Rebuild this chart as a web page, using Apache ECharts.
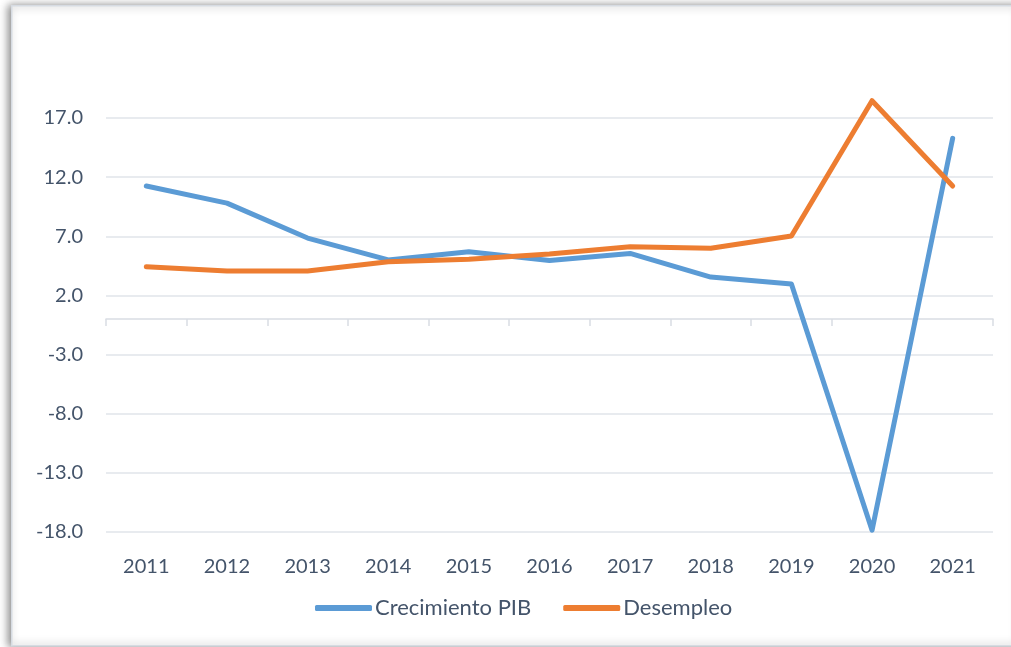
<!DOCTYPE html>
<html>
<head>
<meta charset="utf-8">
<script src="https://cdn.jsdelivr.net/npm/echarts@6/dist/echarts.min.js"></script>
<style>
html,body{margin:0;padding:0;background:#fff;}
#chart{width:1011px;height:647px;}
</style>
</head>
<body>
<div id="chart"></div>
<script>
const categories = ['2011','2012','2013','2014','2015','2016','2017','2018','2019','2020','2021'];
const crecimientoPIB = [11.25, 9.8, 6.85, 5.0, 5.7, 4.95, 5.55, 3.55, 2.97, -17.85, 15.28];
const desempleo = [4.43, 4.07, 4.07, 4.85, 5.06, 5.5, 6.12, 5.99, 7.03, 18.46, 11.25];
const yTicks = [-18, -13, -8, -3, 2, 7, 12, 17];

const textColor = '#44546A';
const gridColor = '#e0e4ea';
const fontFamily = 'Lato, "Open Sans", sans-serif';

const chart = echarts.init(document.getElementById('chart'), null, {renderer: 'canvas'});
chart.setOption({
  animation: false,
  backgroundColor: '#ffffff',
  graphic: [{
    type: 'rect',
    left: 11, top: 5,
    shape: {width: 1010, height: 640},
    style: {fill: '#ffffff', stroke: '#d6dbe2', lineWidth: 1.5,
      shadowBlur: 8, shadowColor: 'rgba(0,0,0,0.45)', shadowOffsetX: -3, shadowOffsetY: 0},
    z: -10, silent: true
  }],
  grid: {left: 106, right: 18, top: 118, bottom: 115},
  legend: {
    data: ['Crecimiento PIB', 'Desempleo'],
    bottom: 23, left: 310,
    icon: 'roundRect', itemWidth: 57, itemHeight: 6, itemGap: 32,
    textStyle: {color: textColor, fontSize: 22, fontFamily: fontFamily, padding: [0,0,0,-2]}
  },
  xAxis: [{
    type: 'category', data: categories, position: 'bottom',
    axisLine: {onZero: true, lineStyle: {color: '#d9dde3', width: 1.5}},
    axisTick: {show: true, length: 7, lineStyle: {color: '#d9dde3', width: 1.5}},
    axisLabel: {show: false},
    splitLine: {show: false}
  }, {
    type: 'category', data: categories, position: 'bottom',
    axisLine: {show: false, onZero: false},
    axisTick: {show: false},
    axisLabel: {color: textColor, fontSize: 20, fontFamily: fontFamily, margin: 25},
    splitLine: {show: false}
  }],
  yAxis: {
    type: 'value', min: -18, max: 17, interval: 5,
    axisLine: {show: false}, axisTick: {show: false},
    axisLabel: {color: textColor, fontSize: 20, fontFamily: fontFamily, margin: 23,
      formatter: v => yTicks.includes(v) ? v.toFixed(1) : ''},
    splitLine: {lineStyle: {color: gridColor, width: 1.5}}
  },
  series: [{
    name: 'Crecimiento PIB', type: 'line', data: crecimientoPIB,
    xAxisIndex: 0, clip: false, showSymbol: false, symbol: 'none',
    lineStyle: {color: '#5B9BD5', width: 5, cap: 'round', join: 'round'},
    itemStyle: {color: '#5B9BD5'}
  }, {
    name: 'Desempleo', type: 'line', data: desempleo,
    xAxisIndex: 0, clip: false, showSymbol: false, symbol: 'none',
    lineStyle: {color: '#ED7D31', width: 5, cap: 'round', join: 'round'},
    itemStyle: {color: '#ED7D31'}
  }]
});
</script>
</body>
</html>
